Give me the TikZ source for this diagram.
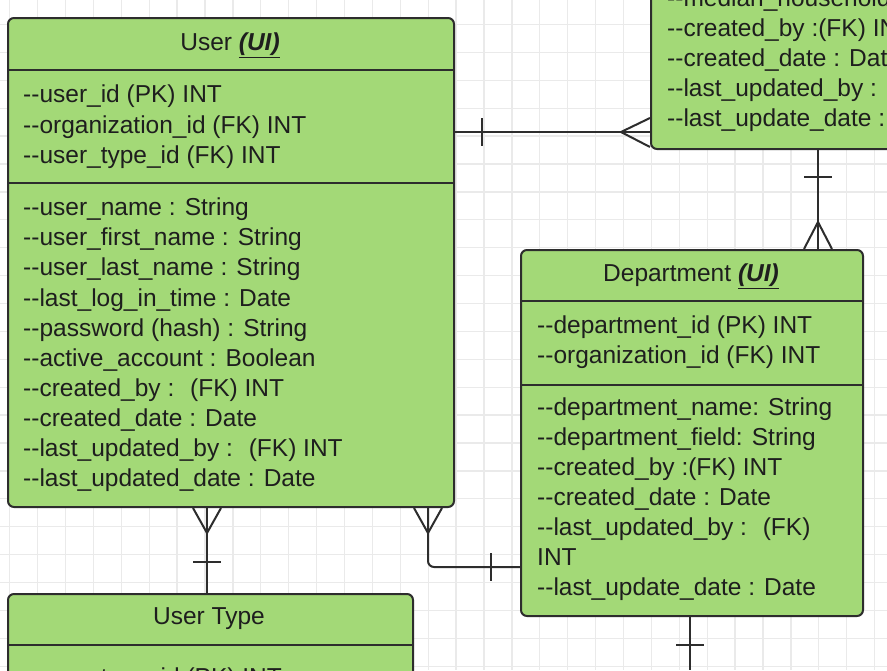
\documentclass[tikz,border=0pt]{standalone}
\usepackage{fontspec}
\setmainfont{Liberation Sans}
\definecolor{entgreen}{RGB}{163,217,119}
\definecolor{edgegray}{RGB}{45,45,45}
\definecolor{gridgray}{RGB}{234,234,234}
\definecolor{txtgray}{RGB}{30,30,30}
\newcommand{\dd}{-{}-}

\begin{document}
\begin{tikzpicture}[x=1pt,y=-1pt,
		entity/.style={draw=edgegray,fill=entgreen,line width=2pt,rounded corners=6pt,anchor=north west,inner sep=0pt},
		divider/.style={draw=edgegray,line width=2pt},
		rel/.style={draw=edgegray,line width=2pt},
		attr/.style={anchor=west,inner sep=0pt,text height=17.5pt,text depth=0pt,text=txtgray,font=\fontsize{24.5}{30}\selectfont},
		title/.style={attr,anchor=center}]
		\useasboundingbox (0,0) rectangle (887,670);
		\clip (0,0) rectangle (887,670);
		\fill[white] (0,0) rectangle (887,670);
		\foreach \k in {-18,...,15}
			\draw[gridgray,line width=1.3pt] ({484+27.9*\k},0) -- ({484+27.9*\k},670);
		\foreach \k in {-1,...,23}
			\draw[gridgray,line width=1.3pt] (0,{24.5+27.9*\k}) -- (887,{24.5+27.9*\k});
		% entities
		\node[entity,minimum width=446pt,minimum height=489pt] (user) at (7,17) {};
		\node[entity,minimum width=420pt,minimum height=448pt] (org) at (650,-300) {};
		\node[entity,minimum width=342pt,minimum height=366pt] (dept) at (520,249) {};
		\node[entity,minimum width=405pt,minimum height=200pt] (utype) at (7,593) {};
		\draw[divider] (user.west |- 0,70) -- (user.east |- 0,70);
		\draw[divider] (user.west |- 0,183) -- (user.east |- 0,183);
		\draw[divider] (dept.west |- 0,301) -- (dept.east |- 0,301);
		\draw[divider] (dept.west |- 0,385) -- (dept.east |- 0,385);
		\draw[divider] (utype.west |- 0,645) -- (utype.east |- 0,645);
		% titles
		\node[title] (user-t) at (230,42) {User \textbf{\textit{\underline{(UI)}}}};
		\node[title] (dept-t) at (691,273) {Department \textbf{\textit{\underline{(UI)}}}};
		\node[title] (utype-t) at (209,616) {User Type};
		% attributes
		\foreach \t [count=\i] in {\dd user\_id (PK) INT,\dd organization\_id (FK) INT,\dd user\_type\_id (FK) INT}
			\node[attr] (user-k\i) at (23,{94+30.5*(\i-1)}) {\t};
		\foreach \t [count=\i] in {\dd user\_name : String,\dd user\_first\_name : String,\dd user\_last\_name : String,
			\dd last\_log\_in\_time : Date,\dd password (hash) : String,\dd active\_account : Boolean,
			\dd created\_by : \ (FK) INT,\dd created\_date : Date,\dd last\_updated\_by : \ (FK) INT,\dd last\_updated\_date : Date}
			\node[attr] (user-a\i) at (23,{207+30.1*(\i-1)}) {\t};
		\foreach \t [count=\i] in {\dd median\_household\_income,\dd created\_by :(FK) INT,\dd created\_date : Date,
			\dd last\_updated\_by : \ (FK) INT,\dd last\_update\_date : Date}
			\node[attr] (org-a\i) at (667,{-2+30*(\i-1)}) {\t};
		\foreach \t [count=\i] in {\dd department\_id (PK) INT,\dd organization\_id (FK) INT}
			\node[attr] (dept-k\i) at (537,{325+30*(\i-1)}) {\t};
		\foreach \t [count=\i] in {\dd department\_name: String,\dd department\_field: String,\dd created\_by :(FK) INT,
			\dd created\_date : Date,\dd last\_updated\_by : \ (FK),INT,\dd last\_update\_date : Date}
			\node[attr] (dept-a\i) at (537,{407+30*(\i-1)}) {\t};
		\node[attr] (utype-k1) at (23,677) {\dd user\_type\_id (PK) INT};
		% relations
		\draw[rel] (user.east |- 0,132) -- (org.west |- 0,132);
		\draw[rel] (482,118) -- (482,146);
		\draw[rel] (org.west |- 0,118) -- (621,132) -- (org.west |- 0,147);
		\draw[rel] (org.south -| 818,0) -- (dept.north -| 818,0);
		\draw[rel] (804,177) -- (832,177);
		\draw[rel] (dept.north -| 804,0) -- (818,222) -- (dept.north -| 832,0);
		\draw[rel] (user.south -| 207,0) -- (utype.north -| 207,0);
		\draw[rel] (193,562) -- (221,562);
		\draw[rel] (user.south -| 193,0) -- (207,533) -- (user.south -| 221,0);
		\draw[rel,rounded corners=6pt] (user.south -| 428,0) -- (428,567) -- (dept.west |- 0,567);
		\draw[rel] (491,553) -- (491,581);
		\draw[rel] (user.south -| 414,0) -- (428,533) -- (user.south -| 442,0);
		\coordinate (down) at (690,670);
		\draw[rel] (dept.south -| down) -- (down);
		\draw[rel] (676,645) -- (704,645);
	\end{tikzpicture}
\end{document}
